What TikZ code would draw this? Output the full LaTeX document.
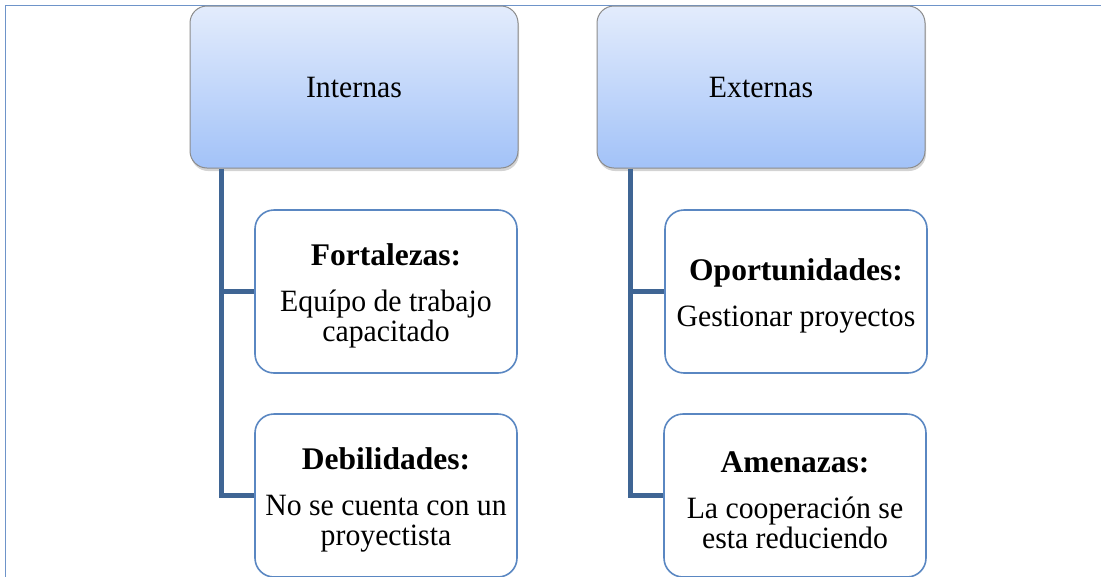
\documentclass[tikz,border=0pt]{standalone}
\usepackage{fontspec}
\setmainfont{Liberation Serif}
\newfontfamily\narrowserif{Liberation Serif}[FakeStretch=0.96]
\usetikzlibrary{calc,shadows}
\definecolor{frameblue}{HTML}{6E94C9}
\definecolor{linkblue}{HTML}{3F6594}
\definecolor{boxblue}{HTML}{5A87C2}
\definecolor{headtop}{HTML}{E3ECFC}
\definecolor{headbot}{HTML}{A2C2F8}
\newcommand{\swot}[2]{\rule{0pt}{30pt}{\fontsize{31.5}{34}\selectfont\rmfamily\bfseries #1}\\[16pt]#2}
\begin{document}
\begin{tikzpicture}
        [x=1pt,y=-1pt,
         head/.style={draw=gray!90, line width=1pt, rounded corners=17pt,
           top color=headtop, bottom color=headbot,
           drop shadow={opacity=.35, shadow xshift=1pt, shadow yshift=-3pt},
           minimum width=328pt, minimum height=162pt,
           font=\narrowserif\fontsize{31}{30}\selectfont},
         item/.style={draw=boxblue, line width=1.6pt, rounded corners=19pt, fill=white,
           minimum width=262pt, minimum height=163pt, text width=250pt, align=flush center,
           font=\narrowserif\fontsize{31}{30}\selectfont},
         link/.style={draw=linkblue, line width=5pt}]
        \useasboundingbox (0,0) rectangle (1101,576);
        \draw[frameblue, line width=1.5pt] (5.5,580) |- (1105,5.5);
        \node[head] (int) at (354,87) {Internas};
        \node[head] (ext) at (761,87) {Externas};
        \node[item] (fort) at (386,291.5) {\swot{Fortalezas:}{Equípo de trabajo\\capacitado}};
        \node[item] (deb) at (386,495.5) {\swot{Debilidades:}{No se cuenta con un\\proyectista}};
        \node[item] (opo) at (796,291.5) {\swot{Oportunidades:}{Gestionar proyectos}};
        \node[item] (ame) at (795,495.5) {\swot{Amenazas:}{La cooperación se\\esta reduciendo}};
        \coordinate (ia) at ($(int.south west)+(32,0)$);
        \coordinate (ea) at ($(ext.south west)+(34,0)$);
        \draw[link] (ia) |- (deb.west);
        \draw[link] (ia |- fort.west) -- (fort.west);
        \draw[link] (ea) |- (ame.west);
        \draw[link] (ea |- opo.west) -- (opo.west);
      \end{tikzpicture}
\end{document}
